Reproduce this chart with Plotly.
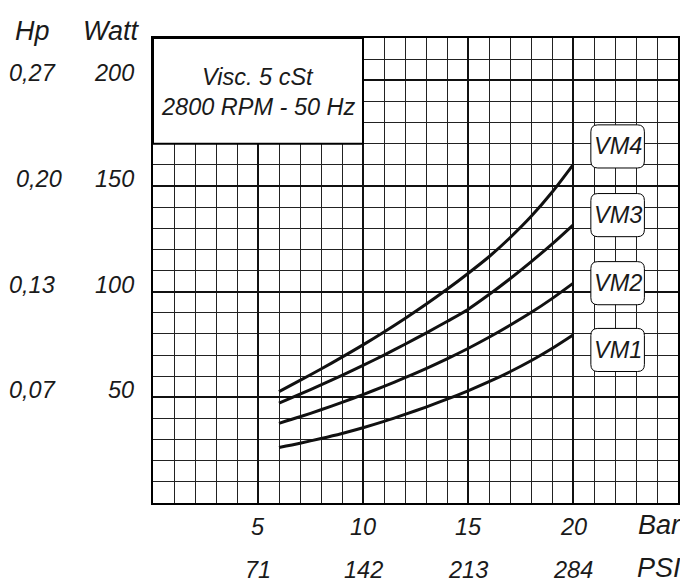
import plotly.graph_objects as go

pressure_bar = [6, 7, 8, 9, 10, 11, 12, 13, 14, 15, 16, 17, 18, 19, 20]
vm1 = [26.3, 28.3, 30.5, 32.9, 35.6, 38.6, 41.9, 45.4, 49.1, 53.1, 57.4, 62.1, 67.3, 73.1, 79.5]
vm2 = [37.7, 40.8, 44.1, 47.6, 51.3, 55.2, 59.3, 63.6, 68.2, 73.1, 78.4, 84.1, 90.1, 96.7, 103.9]
vm3 = [47.2, 51.5, 55.9, 60.4, 65.1, 70.0, 75.1, 80.4, 85.9, 91.6, 98.6, 106.1, 114.1, 122.5, 131.5]
vm4 = [52.7, 58.0, 63.4, 69.0, 74.8, 80.9, 87.3, 94.0, 101.1, 108.6, 116.5, 125.5, 135.5, 147.0, 160.0]
series_names = ["VM1", "VM2", "VM3", "VM4"]
series_values = [vm1, vm2, vm3, vm4]

bar_ticks = [5, 10, 15, 20]
psi_labels = ["71", "142", "213", "284"]
watt_ticks = [50, 100, 150, 200]
hp_labels = ["0,07", "0,13", "0,20", "0,27"]

FONT = "Liberation Sans, Arial, sans-serif"
TXT = "#1a1a1a"

# page is rendered with an 8px body margin -> compensate
OFF = 8
W, H = 688 - OFF, 583 - OFF
PL, PR, PT, PB = 153, 680, 38, 503   # plot area in page pixels
L, R, T, B = PL - OFF, W - (PR - OFF), PT - OFF, H - (PB - OFF)
XR = [0, 25]
YR = [0, 220]
pw = PR - PL
ph = PB - PT
pxx = pw / (XR[1] - XR[0])
pxy = ph / (YR[1] - YR[0])

fig = go.Figure()
for name, vals in zip(series_names, series_values):
    fig.add_trace(go.Scatter(x=pressure_bar, y=vals, mode="lines", name=name,
                             line=dict(color="#111", width=3, shape="spline", smoothing=0.8),
                             showlegend=False, hoverinfo="skip"))

shapes = []
annotations = []

NUM = 23.5
tfont = dict(family=FONT, size=NUM, color=TXT, style="italic")
hfont = dict(family=FONT, size=27, color=TXT, style="italic")

# info box
shapes.append(dict(type="rect", xref="x", yref="y", x0=0, x1=10, y0=170, y1=220,
                   fillcolor="white", line=dict(color="#000", width=2), layer="above"))
annotations.append(dict(xref="x", yref="y", x=5, y=201.5, text="Visc. 5 cSt", showarrow=False,
                        font=tfont))
annotations.append(dict(xref="x", yref="y", x=5, y=187.3, text="2800 RPM - 50 Hz", showarrow=False,
                        font=tfont))

# rounded label boxes
def rounded(x0, x1, y0, y1, r=7):
    rx = r / pxx
    ry = r / pxy
    return (f"M {x0+rx},{y0} L {x1-rx},{y0} Q {x1},{y0} {x1},{y0+ry} "
            f"L {x1},{y1-ry} Q {x1},{y1} {x1-rx},{y1} "
            f"L {x0+rx},{y1} Q {x0},{y1} {x0},{y1-ry} "
            f"L {x0},{y0+ry} Q {x0},{y0} {x0+rx},{y0} Z")

label_centers = [72.4, 104.0, 136.2, 168.7]
for name, yc in zip(series_names, label_centers):
    shapes.append(dict(type="path", xref="x", yref="y",
                       path=rounded(20.85, 23.4, yc - 10.2, yc + 10.2),
                       fillcolor="white", line=dict(color="#000", width=1), layer="above"))
    annotations.append(dict(xref="x", yref="y", x=22.12, y=yc, text=name, showarrow=False,
                            font=tfont))

def paper_x(px):
    return (px - PL) / pw

def paper_y(py):
    return (PB - py) / ph

# headers
annotations.append(dict(xref="paper", yref="paper", x=paper_x(32), y=paper_y(31), text="Hp",
                        showarrow=False, xanchor="center", yanchor="middle", font=hfont))
annotations.append(dict(xref="paper", yref="paper", x=paper_x(111), y=paper_y(31), text="Watt",
                        showarrow=False, xanchor="center", yanchor="middle", font=hfont))

hp_x = [32, 32, 39, 32]
for w, hp, hx in zip(watt_ticks, hp_labels, hp_x):
    annotations.append(dict(xref="paper", yref="y", x=paper_x(136), y=w, yshift=7, text=str(w),
                            showarrow=False, xanchor="right", yanchor="middle", font=tfont))
    annotations.append(dict(xref="paper", yref="y", x=paper_x(hx), y=w, yshift=7, text=hp,
                            showarrow=False, xanchor="center", yanchor="middle", font=tfont))

for b, p in zip(bar_ticks, psi_labels):
    annotations.append(dict(xref="x", yref="paper", x=b, y=paper_y(527), text=str(b),
                            showarrow=False, xanchor="center", yanchor="middle", font=tfont))
    annotations.append(dict(xref="x", yref="paper", x=b, y=paper_y(570), text=p,
                            showarrow=False, xanchor="center", yanchor="middle", font=tfont))

annotations.append(dict(xref="paper", yref="paper", x=paper_x(661), y=paper_y(525), text="Bar",
                        showarrow=False, xanchor="center", yanchor="middle", font=hfont))
annotations.append(dict(xref="paper", yref="paper", x=paper_x(661), y=paper_y(568), text="PSI",
                        showarrow=False, xanchor="center", yanchor="middle", font=hfont))

axis_common = dict(showticklabels=False, ticks="", zeroline=False, showline=True, mirror=True,
                   linecolor="#000", linewidth=2, showgrid=True, gridcolor="#111", gridwidth=2)

fig.update_layout(
    width=W, height=H,
    margin=dict(l=L, r=R, t=T, b=B, pad=0),
    paper_bgcolor="white", plot_bgcolor="white",
    xaxis=dict(range=XR, tick0=0, dtick=5,
               minor=dict(tick0=0, dtick=1, showgrid=True, gridcolor="#222", gridwidth=1, ticks=""),
               **axis_common),
    yaxis=dict(range=YR, tick0=0, dtick=50,
               minor=dict(tick0=0, dtick=10, showgrid=True, gridcolor="#222", gridwidth=1, ticks=""),
               **axis_common),
    shapes=shapes,
    annotations=annotations,
)

fig.write_html("out.html")
